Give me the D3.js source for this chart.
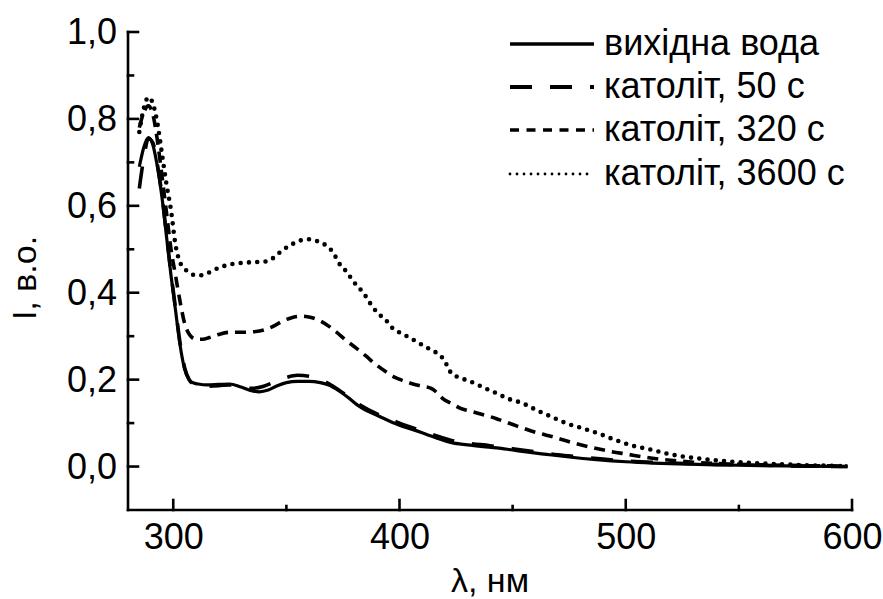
<!DOCTYPE html>
<html>
<head>
<meta charset="utf-8">
<script src="https://cdn.jsdelivr.net/npm/d3@7/dist/d3.min.js"></script>
<style>
  html, body { margin: 0; padding: 0; background: #fff; }
  svg { display: block; }
  text { font-family: "Liberation Sans", Arial, sans-serif; fill: #000; }
</style>
</head>
<body>
<svg id="chart" width="883" height="599"></svg>
<script>
// Absorption spectra: source water and catholyte after different treatment times
const seriesNames = ["вихідна вода", "католіт, 50 с", "католіт, 320 с", "католіт, 3600 с"];

const waterL = [285, 287, 289, 291, 293, 295, 297, 299, 301, 303, 305, 307, 309, 311, 315, 320, 325, 330, 335, 338, 342, 346, 350, 355, 360, 365, 369, 373, 377, 381, 385, 390, 395, 400, 406, 412, 418, 423, 430, 437, 443, 450, 457, 465, 475, 487, 500, 512, 524, 540, 560, 580, 598];
const waterI = [0.69, 0.735, 0.757, 0.74, 0.69, 0.62, 0.53, 0.44, 0.36, 0.28, 0.225, 0.2, 0.192, 0.19, 0.188, 0.189, 0.19, 0.183, 0.174, 0.172, 0.176, 0.186, 0.193, 0.196, 0.196, 0.193, 0.187, 0.175, 0.16, 0.143, 0.13, 0.118, 0.106, 0.095, 0.085, 0.074, 0.063, 0.055, 0.05, 0.046, 0.043, 0.038, 0.033, 0.028, 0.022, 0.016, 0.011, 0.008, 0.006, 0.004, 0.002, 0.001, 0.0];

const cath50L = [285, 287, 289, 291, 293, 295, 297, 299, 301, 303, 305, 307, 309, 311, 315, 320, 325, 330, 335, 340, 345, 350, 355, 360, 365, 369, 373, 380, 390, 400, 410, 418, 423, 430, 440, 450, 460, 470, 480, 490, 500, 520, 540, 560, 580, 598];
const cath50I = [0.64, 0.71, 0.755, 0.745, 0.695, 0.625, 0.535, 0.445, 0.365, 0.285, 0.228, 0.2, 0.19, 0.188, 0.185, 0.186, 0.188, 0.183, 0.18, 0.185, 0.195, 0.205, 0.21, 0.208, 0.2, 0.19, 0.177, 0.15, 0.121, 0.1, 0.082, 0.068, 0.06, 0.054, 0.048, 0.041, 0.034, 0.027, 0.022, 0.017, 0.013, 0.008, 0.005, 0.003, 0.001, 0.0];

const cath320L = [285, 287, 289, 291, 293, 295, 297, 299, 301, 303, 305, 307, 310, 313, 316, 320, 325, 330, 335, 340, 345, 348, 352, 357, 361, 365, 369, 372, 376, 381, 385, 390, 394, 398, 402, 406, 410, 414, 417, 419, 423, 427, 431, 435, 440, 444, 452, 460, 468, 477, 485, 493, 501, 509, 517, 530, 545, 560, 580, 598];
const cath320I = [0.78, 0.815, 0.83, 0.81, 0.75, 0.67, 0.585, 0.5, 0.44, 0.38, 0.33, 0.305, 0.293, 0.293, 0.297, 0.304, 0.309, 0.309, 0.31, 0.314, 0.325, 0.334, 0.342, 0.346, 0.343, 0.335, 0.322, 0.31, 0.292, 0.272, 0.255, 0.233, 0.218, 0.205, 0.197, 0.19, 0.185, 0.18, 0.168, 0.157, 0.145, 0.134, 0.128, 0.122, 0.115, 0.108, 0.093, 0.079, 0.068, 0.054, 0.044, 0.035, 0.028, 0.021, 0.016, 0.01, 0.006, 0.004, 0.002, 0.001];

const cath3600L = [285, 287, 289, 291, 293, 295, 297, 299, 301, 303, 305, 307, 309, 312, 316, 320, 326, 334, 341, 345, 348, 352, 356, 360, 364, 368, 371, 373, 376, 381, 384, 387, 390, 394, 397, 401, 405, 408, 412, 415, 419, 421, 423, 427, 430, 434, 437, 441, 444, 448, 452, 456, 459, 463, 467, 470, 474, 481, 489, 496, 503, 511, 518, 523, 535, 550, 565, 580, 598];
const cath3600I = [0.77, 0.825, 0.85, 0.835, 0.79, 0.72, 0.65, 0.59, 0.51, 0.47, 0.455, 0.447, 0.441, 0.44, 0.447, 0.457, 0.466, 0.47, 0.472, 0.483, 0.497, 0.51, 0.52, 0.523, 0.518, 0.507, 0.49, 0.47, 0.452, 0.417, 0.4, 0.376, 0.355, 0.337, 0.318, 0.306, 0.295, 0.286, 0.274, 0.266, 0.25, 0.233, 0.214, 0.204, 0.198, 0.19, 0.182, 0.173, 0.166, 0.156, 0.15, 0.142, 0.134, 0.124, 0.115, 0.108, 0.099, 0.088, 0.074, 0.06, 0.048, 0.039, 0.03, 0.025, 0.017, 0.01, 0.006, 0.003, 0.001];

const xTicks = [300, 400, 500, 600];
const xMinorTicks = [350, 450, 550];
const yTicks = [0.0, 0.2, 0.4, 0.6, 0.8, 1.0];
const yMinorTicks = [0.1, 0.3, 0.5, 0.7, 0.9];

const seriesL = [waterL, cath50L, cath320L, cath3600L];
const seriesI = [waterI, cath50I, cath320I, cath3600I];

// line styles: solid, long dash, short dash, dots
const styles = [
  { width: 3.2, dash: null, cap: "butt" },
  { width: 3.6, dash: "22,18", cap: "butt" },
  { width: 3.6, dash: "11,7", cap: "butt" },
  { width: 4.6, dash: "0,8.3", cap: "round" }
];
const legendStyles = [
  { width: 3.4, dash: null, cap: "butt" },
  { width: 3.8, dash: "22,18", cap: "butt" },
  { width: 3.4, dash: "9,7.5", cap: "butt" },
  { width: 2.8, dash: "0,7", cap: "round" }
];

const svg = d3.select("#chart");
const x = d3.scaleLinear().domain([280, 600]).range([128, 852]);
const y = d3.scaleLinear().domain([-0.1, 1.0]).range([510, 32]);

const fmtY = d => d.toFixed(1).replace(".", ",");
const axisW = 2.6;

// curves
const line = d3.line().x(d => x(d[0])).y(d => y(d[1])).curve(d3.curveMonotoneX);
seriesL.forEach((L, k) => {
  const pts = L.map((l, i) => [l, seriesI[k][i]]);
  const s = styles[k];
  svg.append("path")
    .attr("d", line(pts))
    .attr("fill", "none")
    .attr("stroke", "#000")
    .attr("stroke-width", s.width)
    .attr("stroke-linecap", s.cap)
    .attr("stroke-linejoin", "round")
    .attr("stroke-dasharray", s.dash);
});

// x axis labels from the axis generator; lines drawn below
const gx = svg.append("g").attr("transform", `translate(0,${y(-0.1)})`);
gx.call(d3.axisBottom(x).tickValues(xTicks).tickSize(0).tickPadding(13).tickFormat(d3.format("d")));
gx.select(".domain").remove();

const gy = svg.append("g").attr("transform", `translate(${x(280)},0)`);
gy.call(d3.axisLeft(y).tickValues(yTicks).tickSize(0).tickPadding(11).tickFormat(fmtY));
gy.select(".domain").remove();

svg.selectAll(".tick text").attr("font-size", 36).attr("font-family", "Liberation Sans, Arial, sans-serif").attr("fill", "#000");

// axis lines and tick marks (ticks point into the plot)
const axes = svg.append("g").attr("stroke", "#000").attr("stroke-width", axisW).attr("stroke-linecap", "square");
axes.append("line").attr("x1", x(280)).attr("x2", x(600)).attr("y1", y(-0.1)).attr("y2", y(-0.1));
axes.append("line").attr("x1", x(280)).attr("x2", x(280)).attr("y1", y(-0.1)).attr("y2", y(1.0));
xTicks.forEach(v => axes.append("line").attr("x1", x(v)).attr("x2", x(v)).attr("y1", y(-0.1)).attr("y2", y(-0.1) - 10));
xMinorTicks.forEach(v => axes.append("line").attr("x1", x(v)).attr("x2", x(v)).attr("y1", y(-0.1)).attr("y2", y(-0.1) - 4));
yTicks.forEach(v => axes.append("line").attr("x1", x(280)).attr("x2", x(280) + 10).attr("y1", y(v)).attr("y2", y(v)));
yMinorTicks.forEach(v => axes.append("line").attr("x1", x(280)).attr("x2", x(280) + 5).attr("y1", y(v)).attr("y2", y(v)));

// axis titles
svg.append("text")
  .attr("x", (x(280) + x(600)) / 2)
  .attr("y", 592)
  .attr("text-anchor", "middle")
  .attr("font-size", 34)
  .text("λ, нм");

svg.append("text")
  .attr("transform", `translate(36,${278}) rotate(-90)`)
  .attr("text-anchor", "middle")
  .attr("font-size", 34)
  .text("I, в.о.");

// legend
const legendRows = [44, 87, 130, 174];
seriesNames.forEach((name, k) => {
  const s = legendStyles[k];
  svg.append("line")
    .attr("x1", 510).attr("x2", 594)
    .attr("y1", legendRows[k]).attr("y2", legendRows[k])
    .attr("stroke", "#000")
    .attr("stroke-width", s.width)
    .attr("stroke-linecap", s.cap)
    .attr("stroke-dasharray", s.dash);
  svg.append("text")
    .attr("x", 604)
    .attr("y", legendRows[k] + 11)
    .attr("font-size", 36)
    .text(name);
});
</script>
</body>
</html>
